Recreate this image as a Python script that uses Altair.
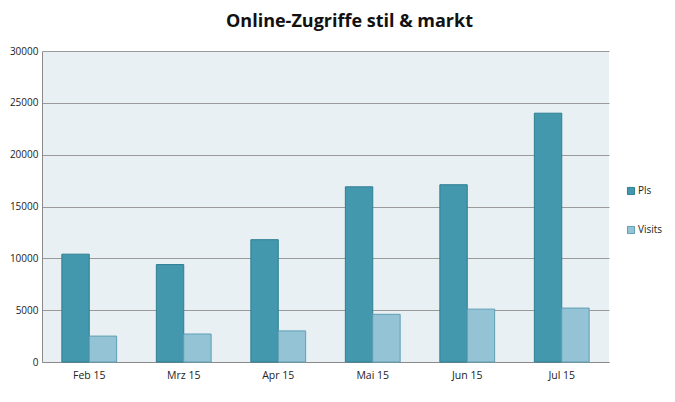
import altair as alt
import pandas as pd

months = ["Feb 15", "Mrz 15", "Apr 15", "Mai 15", "Jun 15", "Jul 15"]
pls = [10400, 9400, 11800, 16900, 17100, 24000]
visits = [2500, 2700, 3000, 4600, 5100, 5200]
series = ["Pls", "Visits"]

rows = []
for m, p, v in zip(months, pls, visits):
    rows.append({"Monat": m, "Serie": "Pls", "Wert": p})
    rows.append({"Monat": m, "Serie": "Visits", "Wert": v})
df = pd.DataFrame(rows)

font = "Open Sans"

bars = alt.Chart(df).mark_bar(strokeWidth=1).encode(
    x=alt.X("Monat:N", sort=months, title=None,
            scale=alt.Scale(paddingInner=0.42, paddingOuter=0.21),
            axis=alt.Axis(labelAngle=0, ticks=False, domainColor="#8a8a8a",
                          labelFont=font, labelFontSize=10.5, labelColor="#222222",
                          labelPadding=8)),
    xOffset=alt.XOffset("Serie:N", sort=series),
    y=alt.Y("Wert:Q", title=None,
            scale=alt.Scale(domain=[0, 30000]),
            axis=alt.Axis(values=[0, 5000, 10000, 15000, 20000, 25000, 30000],
                          format="d", ticks=False, domain=True, domainColor="#8a8a8a",
                          gridColor="#9a9a9a", gridWidth=1,
                          labelFont=font, labelFontSize=10, labelColor="#222222",
                          labelPadding=4)),
    color=alt.Color("Serie:N", sort=series, title=None,
                    scale=alt.Scale(domain=series, range=["#4398ae", "#93c3d4"]),
                    legend=alt.Legend(orient="none", legendX=584, legendY=135,
                                      symbolType="square", symbolSize=50,
                                      symbolStrokeWidth=1,
                                      labelFont=font, labelFontSize=10,
                                      labelColor="#222222", rowPadding=27,
                                      labelOffset=2)),
    stroke=alt.Stroke("Serie:N", sort=series, legend=None,
                      scale=alt.Scale(domain=series, range=["#2f7f93", "#5f9fb4"])),
)

chart = bars.properties(
    width=567, height=311,
    autosize=alt.AutoSizeParams(type="none"),
    padding={"left": 34, "top": 43, "right": 58, "bottom": 30},
    background="white",
    title=alt.Title("Online-Zugriffe stil & markt", font=font, fontSize=18,
                    fontWeight="bold", color="#111111", anchor="middle",
                    dx=24, offset=15),
).configure_view(fill="#e8f0f3", stroke=None)

chart.save("out.html", embed_options={"renderer": "svg", "actions": False})
